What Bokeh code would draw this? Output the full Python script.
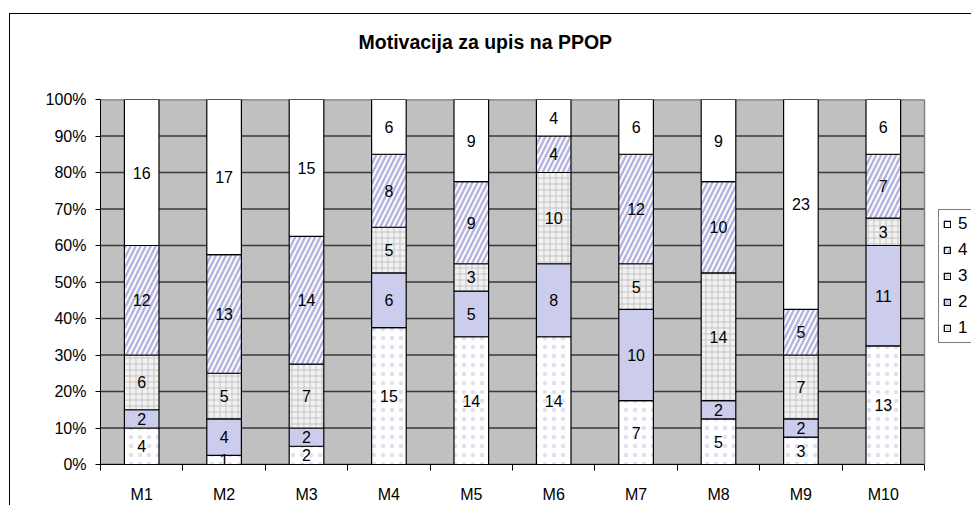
from bokeh.plotting import figure
from bokeh.models import (FixedTicker, Legend, LegendItem, ColumnDataSource, Range1d, Title,
                          InlineStyleSheet, BoxAnnotation, Span)
from bokeh.core.properties import value
from bokeh.embed import file_html
from bokeh.resources import INLINE

categories = ["M1", "M2", "M3", "M4", "M5", "M6", "M7", "M8", "M9", "M10"]
s1 = [4, 1, 2, 15, 14, 14, 7, 5, 3, 13]
s2 = [2, 4, 2, 6, 5, 8, 10, 2, 2, 11]
s3 = [6, 5, 7, 5, 3, 10, 5, 14, 7, 3]
s4 = [12, 13, 14, 8, 9, 4, 12, 10, 5, 7]
s5 = [16, 17, 15, 6, 9, 4, 6, 9, 23, 6]
series_names = ["1", "2", "3", "4", "5"]
y_ticks = [0, 10, 20, 30, 40, 50, 60, 70, 80, 90, 100]
y_tick_labels = ["0%", "10%", "20%", "30%", "40%", "50%", "60%", "70%", "80%", "90%", "100%"]
title_text = "Motivacija za upis na PPOP"

FONT = "Liberation Sans"
series = [s1, s2, s3, s4, s5]
xs = list(range(1, len(categories) + 1))
totals = [sum(v) for v in zip(*series)]
x_lo, x_hi = 0.5, len(categories) + 0.5
# the frame also covers the legend strip at the right (47 px, at 82.4 px per category)
x_view_end = x_hi + 47 / 82.4

styles = [
    dict(fill_color="#ffffff", hatch_pattern="dot", hatch_color="#e0e0ee", hatch_scale=9, hatch_weight=0.7),
    dict(fill_color="#ccccec"),
    dict(fill_color="#f2f2f2", hatch_pattern="cross", hatch_color="#c4c4c4", hatch_scale=6, hatch_weight=1),
    dict(fill_color="#ffffff", hatch_pattern="right_diagonal_line", hatch_color="#b4b4e0", hatch_scale=10, hatch_weight=2.5),
    dict(fill_color="#ffffff"),
]

p = figure(width=971, height=505, output_backend="svg", toolbar_location=None,
           x_range=Range1d(x_lo, x_view_end), y_range=Range1d(0, 100),
           min_border_left=100, min_border_right=0, min_border_top=99, min_border_bottom=37)
p.background_fill_color = "#ffffff"
p.border_fill_color = "#ffffff"
p.outline_line_color = None

# outer chart-area border (top and left edges; right/bottom lie outside the window)
p.stylesheets = [InlineStyleSheet(css=(
    ":host::after{content:'';position:absolute;left:9px;top:13px;width:962px;height:492px;"
    "box-sizing:border-box;border-left:1px solid #000;border-top:1px solid #000;"
    "pointer-events:none;z-index:100;}"))]

p.title = Title(text=title_text, align="left", offset=258, standoff=58, vertical_align="top",
                text_font_size="19.5px", text_font=FONT, text_font_style="bold", text_color="#000000")
p.add_layout(Title(text=" ", text_font_size="1px", standoff=13), "above")

# grey plot area and its grid lines
p.add_layout(BoxAnnotation(left=x_lo, right=x_hi, bottom=y_ticks[0], top=y_ticks[-1],
                           fill_color="#c0c0c0", fill_alpha=1, line_color=None, level="underlay"))
p.xgrid.visible = False
p.ygrid.visible = False
p.segment(x0=[x_lo] * len(y_ticks), x1=[x_hi] * len(y_ticks), y0=y_ticks, y1=y_ticks,
          line_color="#3a3a3a", line_width=1.5)
p.add_layout(Span(location=x_hi, dimension="height", line_color="#808080", line_width=1.5))

bottom = [0.0] * len(categories)
renderers = []
lab_x, lab_y, lab_t = [], [], []
for vals, st in zip(series, styles):
    pct = [v / t * 100 for v, t in zip(vals, totals)]
    top = [b + q for b, q in zip(bottom, pct)]
    src = ColumnDataSource(dict(x=xs, bottom=bottom, top=top))
    r = p.vbar(x="x", bottom="bottom", top="top", width=0.42, source=src,
               line_color="#000000", line_width=1.2, **st)
    renderers.append(r)
    for x, b, t, v in zip(xs, bottom, top, vals):
        lab_x.append(x)
        lab_y.append((b + t) / 2)
        lab_t.append(str(v))
    bottom = top

p.text(x=lab_x, y=lab_y, text=lab_t, text_align="center", text_baseline="middle",
       text_font=value(FONT), text_font_size="16px", text_color="#000000")

p.yaxis.ticker = FixedTicker(ticks=y_ticks)
p.yaxis.major_label_overrides = {t: l for t, l in zip(y_ticks, y_tick_labels)}
p.yaxis.major_label_text_font = FONT
p.yaxis.major_label_text_font_size = "16px"
p.yaxis.major_label_text_color = "#000000"
p.yaxis.major_tick_out = 5
p.yaxis.major_tick_in = 0
p.yaxis.minor_tick_line_color = None
p.yaxis.axis_line_color = "#000000"
p.yaxis.major_tick_line_color = "#000000"
p.yaxis.major_label_standoff = 9

p.xaxis.bounds = (x_lo, x_hi)
p.xaxis.ticker = FixedTicker(ticks=xs, minor_ticks=[x - 0.5 for x in xs] + [x_hi])
p.xaxis.major_label_overrides = {x: c for x, c in zip(xs, categories)}
p.xaxis.major_label_text_font = FONT
p.xaxis.major_label_text_font_size = "16px"
p.xaxis.major_label_text_color = "#000000"
p.xaxis.major_tick_out = 0
p.xaxis.major_tick_in = 0
p.xaxis.minor_tick_out = 6
p.xaxis.minor_tick_in = 0
p.xaxis.minor_tick_line_color = "#000000"
p.xaxis.axis_line_color = "#000000"
p.xaxis.major_label_standoff = 15

items = [LegendItem(label=n, renderers=[r]) for n, r in zip(series_names, renderers)][::-1]
legend = Legend(items=items, location=(838, 121), orientation="vertical",
                label_text_font=FONT, label_text_font_size="17px", label_text_color="#000000",
                glyph_width=8, glyph_height=8, label_standoff=7, label_height=20,
                spacing=6, padding=4, margin=0, border_line_color="#000000", border_line_width=1,
                background_fill_color="#ffffff", background_fill_alpha=1)
p.add_layout(legend, "center")

open("out.html", "w").write(file_html(p, INLINE))
